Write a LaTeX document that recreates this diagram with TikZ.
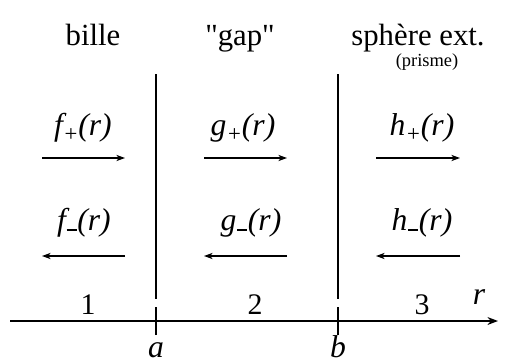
\documentclass[tikz,border=0pt]{standalone}
\usepackage{fontspec}
\setmainfont{Liberation Serif}
\usetikzlibrary{arrows.meta}
\newcommand{\fpm}[2]{{\itshape #1\raisebox{-0.45ex}{\fontsize{13}{13}\selectfont #2}(r)}}
\newcommand{\lowminus}{\hspace{0.02em}\rule[-0.1ex]{0.32em}{0.08em}\hspace{0.02em}}
\tikzset{
  title/.style={font=\fontsize{17.5}{19}\selectfont, anchor=base},
  func/.style={font=\fontsize{18}{20}\selectfont, anchor=base},
  num/.style={font=\fontsize{17}{19}\selectfont, anchor=base},
  wall/.style={line width=1.2pt},
  wave/.style={-{Stealth[length=5pt,width=3.6pt]}, line width=0.6pt}
}
\begin{document}
\begin{tikzpicture}[x=0.02cm,y=-0.02cm]
  \useasboundingbox (0,0) rectangle (507,362);
  % titles of the three regions
  \node[title] (bille) at (93,45) {bille};
  \node[title] (gap) at (240,45) {\textquotedbl gap\textquotedbl};
  \node[title] (sphere) at (418,45) {sphère ext.};
  \node[font=\fontsize{10.5}{12}\selectfont, anchor=base] (prisme) at (427,66) {(prisme)};
  % interfaces
  \coordinate (a top) at (156,74);
  \coordinate (a bot) at (156,299);
  \coordinate (b top) at (338,74);
  \coordinate (b bot) at (338,299);
  \draw[wall] (a top) -- (a bot);
  \draw[wall] (b top) -- (b bot);
  % waves
  \node[func] (fp) at (83,135) {\fpm{f}{+}};
  \node[func] (gp) at (243,135) {\fpm{g}{+}};
  \node[func] (hp) at (422,135) {\fpm{h}{+}};
  \node[func] (fm) at (84,230) {{\itshape f\lowminus(r)}};
  \node[func] (gm) at (251,230) {{\itshape g\lowminus(r)}};
  \node[func] (hm) at (422,230) {{\itshape h\lowminus(r)}};
  \foreach \n/\xa/\xb in {f/42/125,g/204/287,h/376/460}{
    \coordinate (\n p0) at (\xa,158);
    \coordinate (\n p1) at (\xb,158);
    \coordinate (\n m0) at (\xb,256);
    \coordinate (\n m1) at (\xa,256);
    \draw[wave] (\n p0) -- (\n p1);
    \draw[wave] (\n m0) -- (\n m1);
  }
  % axis
  \coordinate (r0) at (10,321);
  \coordinate (r1) at (498,321);
  \draw[-{Stealth[length=6pt,width=4.5pt]}, line width=0.9pt] (r0) -- (r1);
  \foreach \p in {a,b}
    \draw[line width=0.9pt] ([yshift=-8]\p\space bot |- r0) -- ([yshift=8]\p\space bot |- r0);
  \node[num] (one) at (88,314) {1};
  \node[num] (two) at (255,314) {2};
  \node[num] (three) at (422,314) {3};
  \node[func] (r) at (479,304) {\itshape r};
  \node[func] (alab) at (156,357) {\itshape a};
  \node[func] (blab) at (338,357) {\itshape b};
\end{tikzpicture}
\end{document}
